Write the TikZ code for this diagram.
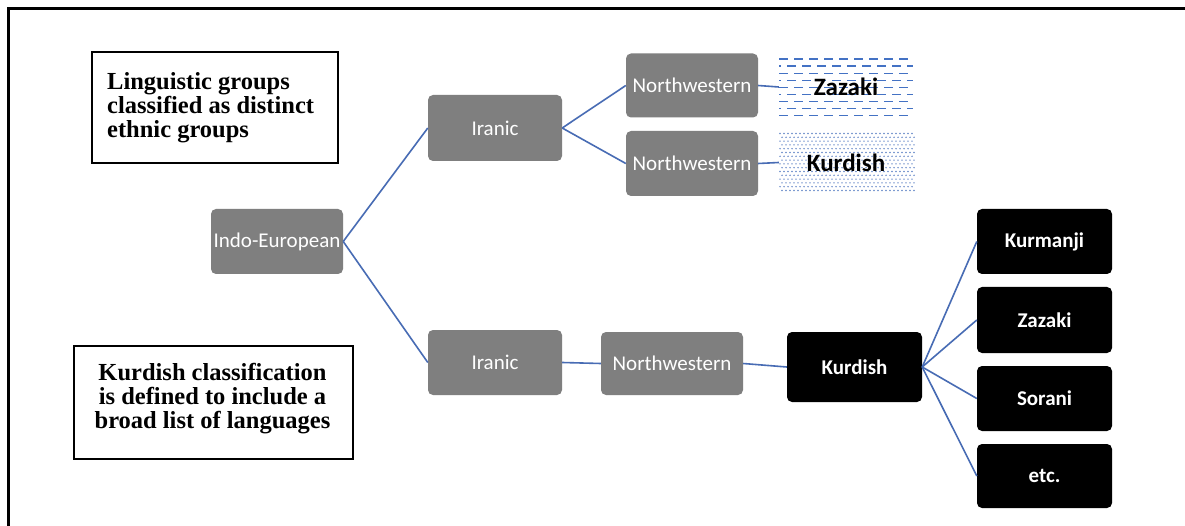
\documentclass[tikz,border=0pt]{standalone}
\usepackage{fontspec}
\setmainfont{Liberation Serif}
\newfontfamily\calib{Carlito}
\definecolor{boxgray}{RGB}{127,127,127}
\definecolor{linkblue}{RGB}{72,108,180}
\definecolor{patblue}{RGB}{68,114,196}
\definecolor{dotblue}{RGB}{100,135,200}
\begin{document}
\begin{tikzpicture}[x=1pt,y=-1pt,
  graybox/.style={fill=boxgray, rounded corners=5pt, text=white, font=\calib\fontsize{21}{25}\selectfont, inner sep=0pt},
  blackbox/.style={fill=black, rounded corners=5pt, text=white, font=\calib\bfseries\fontsize{21}{25}\selectfont, inner sep=0pt, minimum width=135pt},
  patbox/.style={inner sep=0pt, text=black, font=\calib\bfseries\fontsize{25}{30}\selectfont, minimum width=134pt},
  link/.style={draw=linkblue, line width=1.6pt},
  notebox/.style={draw=black, line width=1.4pt, inner sep=0pt},
  notetext/.style={font=\bfseries\fontsize{24.5}{24}\selectfont, inner sep=0pt}
]
\useasboundingbox (0,0) rectangle (1185,526);
\fill[white] (0,0) rectangle (1185,526);
% outer frame (only top and left edges visible)
\draw[line width=2.7pt] (8.7,560) -- (8.7,8.7) -- (1200,8.7);

% patterns behind the two top-right labels
\foreach \k in {0,...,8} {
  \pgfmathsetmacro\yy{59+7.1*\k}
  \pgfmathsetmacro\ph{mod(\k,2)*7}
  \draw[patblue, line width=1.2pt, dash pattern=on 9pt off 6pt, dash phase=\ph pt] (779,\yy) -- (913,\yy);
}
\foreach \i in {0,...,33} {
  \foreach \j in {0,...,15} {
    \pgfmathsetmacro\xx{780+4*\i+2*mod(\j,2)}
    \pgfmathsetmacro\yy{133.5+3.8*\j}
    \fill[dotblue] (\xx,\yy) circle (0.8pt);
  }
}

% note boxes
\node[notebox, minimum width=246pt, minimum height=111pt] (n1) at (215,107.5) {};
\node[notetext, anchor=west, align=left] (n1t) at (107,108) {Linguistic groups\\classified as distinct\\ethnic groups};
\node[notebox, minimum width=279pt, minimum height=113pt] (n2) at (213.5,402.5) {};
\node[notetext, align=center] (n2t) at (212.5,398.5) {Kurdish classification\\is defined to include a\\broad list of languages};

% tree nodes
\node[graybox, minimum width=132pt, minimum height=65pt] (ie) at (277,241.5) {Indo-European};
\node[graybox, minimum width=134pt, minimum height=66pt] (ir1) at (495,128) {Iranic};
\node[graybox, minimum width=132pt, minimum height=64pt] (nw1) at (692,85.5) {Northwestern};
\node[graybox, minimum width=132pt, minimum height=65pt] (nw2) at (692,163.5) {Northwestern};
\node[patbox, minimum height=60pt] (zz1) at (846,87) {Zazaki};
\node[patbox, minimum height=61pt] (kd1) at (846,162.5) {Kurdish};
\node[graybox, minimum width=134pt, minimum height=65pt] (ir2) at (495,362.5) {Iranic};
\node[graybox, minimum width=142pt, minimum height=63pt] (nw3) at (672,363.5) {Northwestern};
\node[blackbox, minimum height=70pt] (kd2) at (854.5,367) {Kurdish};
\node[blackbox, minimum height=65pt] (km) at (1044.5,241.5) {Kurmanji};
\node[blackbox, minimum height=66pt] (zz2) at (1044.5,320) {Zazaki};
\node[blackbox, minimum height=65pt] (so) at (1044.5,398.5) {Sorani};
\node[blackbox, minimum height=64pt] (et) at (1044.5,476) {etc.};

% connectors
\draw[link] (ie.east) -- (ir1.west);
\draw[link] (ie.east) -- (ir2.west);
\draw[link] (ir1.east) -- (nw1.west);
\draw[link] (ir1.east) -- (nw2.west);
\draw[link] (nw1.east) -- (zz1.west);
\draw[link] (nw2.east) -- (kd1.west);
\draw[link] (ir2.east) -- (nw3.west);
\draw[link] (nw3.east) -- (kd2.west);
\draw[link] (kd2.east) -- (km.west);
\draw[link] (kd2.east) -- (zz2.west);
\draw[link] (kd2.east) -- (so.west);
\draw[link] (kd2.east) -- (et.west);
\end{tikzpicture}
\end{document}
